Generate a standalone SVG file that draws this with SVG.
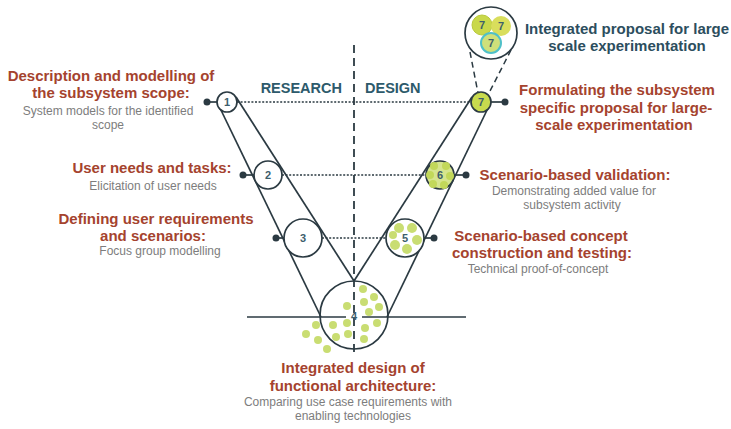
<svg xmlns="http://www.w3.org/2000/svg" width="731" height="429" viewBox="0 0 731 429">
<style>
.ln{stroke:#2b3a42;stroke-width:1.7;fill:none}
.dot{stroke:#2b3a42;stroke-width:1.6;stroke-dasharray:2 1.6;fill:none}
.dash{stroke:#2b3a42;stroke-width:1.8;stroke-dasharray:8 5;fill:none}
.dash2{stroke:#2b3a42;stroke-width:1.5;stroke-dasharray:6 4;fill:none}
.c{stroke:#2b3a42;stroke-width:1.7;fill:#fff}
.jd{fill:#2b3a42}
.num{font-family:"Liberation Sans",Arial,sans-serif;font-size:11px;font-weight:bold;fill:#3d5e6c;text-anchor:middle}
.t{font-family:"Liberation Sans",Arial,sans-serif;font-size:15px;font-weight:bold;fill:#a5432e;text-anchor:middle}
.s{font-family:"Liberation Sans",Arial,sans-serif;font-size:12px;fill:#7d7d7d;text-anchor:middle}
.h{font-family:"Liberation Sans",Arial,sans-serif;font-size:15px;font-weight:bold;fill:#2c4e5e;text-anchor:middle}
.rd{font-family:"Liberation Sans",Arial,sans-serif;font-size:14.5px;font-weight:bold;fill:#2d5a6b}
.g{fill:#c9dd72}
</style>
<rect width="731" height="429" fill="#fff"/>
<g id="connectors">
  <line class="dash" x1="354" y1="45" x2="354" y2="354"/>
  <line class="ln" x1="219" y1="106" x2="321" y2="317"/>
  <line class="ln" x1="236" y1="97" x2="354" y2="281"/>
  <line class="ln" x1="489" y1="106" x2="387" y2="317"/>
  <line class="ln" x1="472" y1="97" x2="354" y2="281"/>
  <line class="ln" x1="247" y1="317" x2="346" y2="317"/>
  <line class="ln" x1="362" y1="317" x2="466" y2="317"/>
  <line class="dot" x1="237" y1="102" x2="471" y2="102"/>
  <line class="dot" x1="282" y1="175" x2="426" y2="175"/>
  <line class="dot" x1="322" y1="238" x2="386" y2="238"/>
  <line class="dash2" x1="470" y1="52" x2="478" y2="93"/>
  <line class="dash2" x1="511" y1="50" x2="489" y2="93"/>
  <line class="ln" x1="207" y1="102" x2="217" y2="102"/>
  <line class="ln" x1="243" y1="175" x2="254" y2="175"/>
  <line class="ln" x1="276" y1="238" x2="284" y2="238"/>
  <line class="ln" x1="424" y1="238" x2="434" y2="238"/>
  <line class="ln" x1="454" y1="175" x2="466" y2="175"/>
  <line class="ln" x1="491" y1="102" x2="505" y2="102"/>
  <circle class="jd" cx="207" cy="102" r="3.5"/>
  <circle class="jd" cx="243" cy="175" r="3.5"/>
  <circle class="jd" cx="276" cy="238" r="3.5"/>
  <circle class="jd" cx="434" cy="238" r="3.5"/>
  <circle class="jd" cx="466" cy="175" r="3.5"/>
  <circle class="jd" cx="505" cy="102" r="3.5"/>
</g>
<g id="labels-axis">
  <text class="rd" x="342" y="93" text-anchor="end">RESEARCH</text>
  <text class="rd" x="365" y="93">DESIGN</text>
</g>
<g id="node1">
  <circle class="c" cx="227" cy="102" r="10"/>
  <text class="num" x="227" y="106">1</text>
  <text class="t" x="111" y="81">Description and modelling of</text>
  <text class="t" x="111" y="98">the subsystem scope:</text>
  <text class="s" x="108" y="115">System models for the identified</text>
  <text class="s" x="108" y="128.5">scope</text>
</g>
<g id="node2">
  <circle class="c" cx="268" cy="175" r="14"/>
  <text class="num" x="268" y="179">2</text>
  <text class="t" x="152" y="173">User needs and tasks:</text>
  <text class="s" x="153" y="190">Elicitation of user needs</text>
</g>
<g id="node3">
  <circle class="c" cx="303" cy="238" r="19"/>
  <text class="num" x="303" y="242">3</text>
  <text class="t" x="156" y="224">Defining user requirements</text>
  <text class="t" x="153" y="241">and scenarios:</text>
  <text class="s" x="160" y="255">Focus group modelling</text>
</g>
<g id="node4">
  <circle cx="354" cy="315" r="34" fill="none" stroke="#2b3a42" stroke-width="1.7"/>
  <g class="g">
    <circle cx="363" cy="289" r="4"/><circle cx="374" cy="297" r="4"/><circle cx="364" cy="302" r="4"/>
    <circle cx="379" cy="307" r="4"/><circle cx="347" cy="306" r="4"/><circle cx="369" cy="312" r="4"/>
    <circle cx="377" cy="323" r="4"/><circle cx="365" cy="328" r="4"/><circle cx="347" cy="323" r="4"/>
    <circle cx="333" cy="325" r="4"/><circle cx="316" cy="325" r="4"/><circle cx="336" cy="337" r="4"/>
    <circle cx="348" cy="334" r="4"/><circle cx="364" cy="339" r="4"/><circle cx="306" cy="334" r="4"/>
    <circle cx="318" cy="340" r="4"/><circle cx="327" cy="349" r="4"/>
  </g>
  <text class="num" x="354" y="320">4</text>
  <text class="t" x="353" y="373">Integrated design of</text>
  <text class="t" x="353" y="391">functional architecture:</text>
  <text class="s" x="348" y="406">Comparing use case requirements with</text>
  <text class="s" x="353" y="420">enabling technologies</text>
</g>
<g id="node5">
  <circle class="c" cx="405" cy="238" r="19"/>
  <g class="g">
    <circle cx="399" cy="228" r="5"/><circle cx="412" cy="228" r="5"/><circle cx="417" cy="240" r="5"/>
    <circle cx="407" cy="249" r="5"/><circle cx="395" cy="245" r="5"/><circle cx="393" cy="235" r="4"/>
  </g>
  <text class="num" x="405" y="242">5</text>
  <text class="t" x="541" y="241">Scenario-based concept</text>
  <text class="t" x="542" y="258">construction and testing:</text>
  <text class="s" x="538" y="273">Technical proof-of-concept</text>
</g>
<g id="node6">
  <circle class="c" cx="440" cy="175" r="14" style="fill:#d6e58e"/>
  <g fill="#c2d85a">
    <circle cx="434" cy="166" r="4"/><circle cx="446" cy="166" r="4"/><circle cx="450" cy="176" r="4"/>
    <circle cx="444" cy="185" r="4"/><circle cx="433" cy="184" r="4"/><circle cx="430" cy="175" r="4"/>
  </g>
  <text class="num" x="440" y="179">6</text>
  <text class="t" x="575" y="180">Scenario-based validation:</text>
  <text class="s" x="574" y="195">Demonstrating added value for</text>
  <text class="s" x="572" y="209">subsystem activity</text>
</g>
<g id="node7">
  <circle class="c" cx="481" cy="102" r="10" style="fill:#c8da4e"/>
  <text class="num" x="481" y="106">7</text>
  <text class="t" x="617" y="95">Formulating the subsystem</text>
  <text class="t" x="616" y="113">specific proposal for large-</text>
  <text class="t" x="614" y="130">scale experimentation</text>
</g>
<g id="node-integrated">
  <circle class="c" cx="491" cy="33" r="26"/>
  <circle cx="482" cy="25" r="10" fill="#c9d84a" stroke="#b9c93c" stroke-width="1"/>
  <circle cx="501" cy="26" r="10" fill="#d9de5c"/>
  <circle cx="491" cy="43" r="10" fill="#cfe07a" stroke="#4fc0c8" stroke-width="2"/>
  <text class="num" x="482" y="29">7</text>
  <text class="num" x="501" y="30">7</text>
  <text class="num" x="491" y="47">7</text>
  <text class="h" x="627" y="34">Integrated proposal for large</text>
  <text class="h" x="627" y="51">scale experimentation</text>
</g>
</svg>
